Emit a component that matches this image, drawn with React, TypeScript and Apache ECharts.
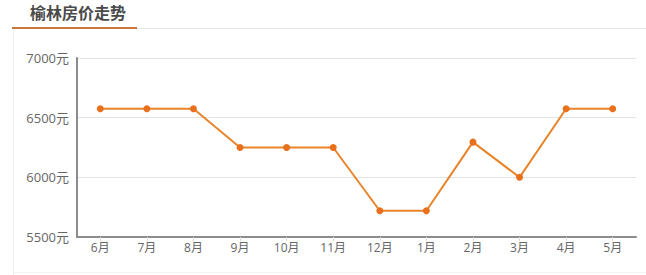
import React, { useEffect, useRef } from "react";
import * as echarts from "echarts";

const titleText = "榆林房价走势";
const months = ["6月", "7月", "8月", "9月", "10月", "11月", "12月", "1月", "2月", "3月", "4月", "5月"];
const prices = [6575, 6575, 6575, 6250, 6250, 6250, 5720, 5720, 6295, 6000, 6575, 6575];
const yMin = 5500;
const yMax = 7000;
const yStep = 500;

export default function App() {
  const ref = useRef<HTMLDivElement>(null);
  useEffect(() => {
    if (!ref.current) return;
    const chart = echarts.init(ref.current, undefined, { renderer: "svg" });
    const font = "'Open Sans', 'Noto Sans CJK SC', sans-serif";
    chart.setOption({
      animation: false,
      backgroundColor: "#ffffff",
      textStyle: { fontFamily: font },
      grid: { left: 77, right: 10, top: 58, bottom: 38, containLabel: false },
      xAxis: {
        type: "category",
        data: months,
        boundaryGap: true,
        axisLine: { show: true, lineStyle: { color: "#8c8c8c", width: 2 } },
        axisTick: { show: true, alignWithLabel: true, length: 4, lineStyle: { color: "#dddddd" } },
        axisLabel: { color: "#666666", fontSize: 12, margin: 4, fontFamily: font },
        splitLine: { show: false },
      },
      yAxis: {
        type: "value",
        min: yMin,
        max: yMax,
        interval: yStep,
        axisLine: { show: true, lineStyle: { color: "#8c8c8c", width: 2 } },
        axisTick: { show: false },
        axisLabel: {
          color: "#666666",
          fontSize: 13,
          margin: 8,
          formatter: (v: number) => String(v) + "元",
          fontFamily: font,
        },
        splitLine: { show: true, lineStyle: { color: "#e3e3e3", width: 1 } },
      },
      series: [
        {
          type: "line",
          data: prices,
          symbol: "circle",
          symbolSize: 7,
          lineStyle: { color: "#e8852a", width: 2 },
          itemStyle: { color: "#e8701c" },
        },
      ],
      graphic: [
        { type: "rect", shape: { x: 137, y: 28, width: 509, height: 1 }, style: { fill: "#e6e6e6" } },
        { type: "rect", shape: { x: 12, y: 27, width: 125, height: 2 }, style: { fill: "#c8773f" } },
        { type: "rect", shape: { x: 13, y: 30, width: 1, height: 245 }, style: { fill: "#eeeeee" } },
        { type: "rect", shape: { x: 13, y: 272, width: 633, height: 1 }, style: { fill: "#f2f2f2" } },
        {
          type: "text",
          x: 30,
          y: 12,
          style: {
            text: titleText,
            fill: "#4a4a4a",
            fontSize: 16,
            fontWeight: "bold",
            verticalAlign: "middle",
            fontFamily: "'Noto Sans CJK SC', sans-serif",
          },
        },
      ],
    });
    return () => chart.dispose();
  }, []);
  return <div ref={ref} style={{ position: "absolute", left: 0, top: 0, width: 646, height: 275 }} />;
}
